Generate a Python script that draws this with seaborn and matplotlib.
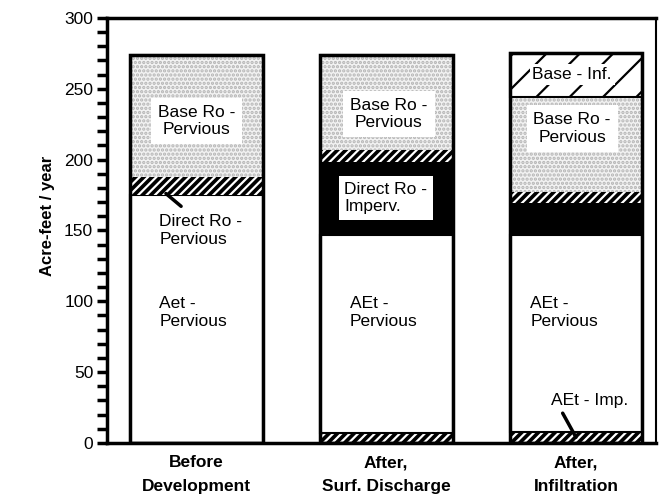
import matplotlib
matplotlib.use("Agg")
from matplotlib import pyplot as plt
from matplotlib.ticker import MultipleLocator
import numpy as np
import pandas as pd
import seaborn as sns

# categories and layer values (acre-feet / year), bottom to top
scenarios = ["Before\nDevelopment", "After,\nSurf. Discharge", "After,\nInfiltration"]
aet_imp = [0, 7, 8]
aet_perv = [175, 140, 139]
direct_imperv = [0, 51, 22]
direct_perv = [13, 9, 8]
base_ro_perv = [86, 67, 67]
base_inf = [0, 0, 31]

sns.set_style("white")
plt.rcParams["font.family"] = ["Liberation Sans", "DejaVu Sans"]
plt.rcParams["text.color"] = "black"
plt.rcParams["ytick.color"] = "black"
plt.rcParams["xtick.color"] = "black"
plt.rcParams["axes.labelcolor"] = "black"
plt.rcParams["hatch.linewidth"] = 1.6

fig, ax = plt.subplots(figsize=(6.65, 4.96), dpi=100)
fig.subplots_adjust(left=0.161, right=0.986, bottom=0.107, top=0.964)

layers = [
    (aet_imp, dict(color="black", edgecolor="white", hatch="////", linewidth=0)),
    (aet_perv, dict(color="white", edgecolor="black", linewidth=1.5)),
    (direct_imperv, dict(color="black", edgecolor="black", linewidth=0)),
    (direct_perv, dict(color="black", edgecolor="white", hatch="////", linewidth=0)),
    (base_ro_perv, dict(color="#f2f2f2", edgecolor="#b4b4b4", hatch="....", linewidth=0)),
    (base_inf, dict(color="white", edgecolor="black", hatch="/", linewidth=1.5)),
]

width = 0.7
bottom = np.zeros(len(scenarios))
for vals, style in layers:
    df = pd.DataFrame({"scenario": scenarios, "value": vals})
    sns.barplot(data=df, x="scenario", y="value", bottom=bottom, width=width,
                saturation=1, ax=ax, **style)
    bottom = bottom + np.array(vals)

# outline of each stacked bar
tot = pd.DataFrame({"scenario": scenarios, "value": bottom})
sns.barplot(data=tot, x="scenario", y="value", width=width, fill=False,
            edgecolor="black", linewidth=2.5, ax=ax)

box = dict(facecolor="white", edgecolor="none", pad=5)
fs = 12.5
ax.text(0.0, 227, "Base Ro -\nPervious", ha="center", va="center", fontsize=fs, bbox=box)
ax.text(-0.195, 150, "Direct Ro -\nPervious", ha="left", va="center", fontsize=fs)
ax.text(-0.195, 92, "Aet -\nPervious", ha="left", va="center", fontsize=fs)
ax.plot([-0.16, -0.08], [176, 167], color="black", linewidth=2.5)

ax.text(1.015, 232, "Base Ro -\nPervious", ha="center", va="center", fontsize=fs, bbox=box)
ax.text(0.78, 173, "Direct Ro -\nImperv.", ha="left", va="center", fontsize=fs,
        bbox=dict(facecolor="white", edgecolor="none", pad=4))
ax.text(0.81, 92, "AEt -\nPervious", ha="left", va="center", fontsize=fs)

ax.text(1.98, 260, "Base - Inf.", ha="center", va="center", fontsize=fs,
        bbox=dict(facecolor="white", edgecolor="none", pad=2))
ax.text(1.98, 222, "Base Ro -\nPervious", ha="center", va="center", fontsize=fs, bbox=box)
ax.text(1.76, 92, "AEt -\nPervious", ha="left", va="center", fontsize=fs)
ax.text(2.07, 30, "AEt - Imp.", ha="center", va="center", fontsize=fs)
ax.plot([1.93, 2.0], [21, 4], color="black", linewidth=2.5)

ax.set_xlim(-0.47, 2.42)
ax.set_ylim(0, 300)
ax.yaxis.set_major_locator(MultipleLocator(50))
ax.yaxis.set_minor_locator(MultipleLocator(10))
ax.tick_params(axis="y", which="both", direction="out", length=7, width=2.5,
               left=True, labelsize=12.5, pad=3)
ax.tick_params(axis="x", length=0, labelsize=12.5, pad=9)
for lab in ax.get_xticklabels():
    lab.set_fontweight("bold")
    lab.set_linespacing(1.7)
ax.set_xlabel("")
ax.set_ylabel("Acre-feet / year", fontsize=12, fontweight="bold")
ax.yaxis.set_label_coords(-0.095, 0.534)
for sp in ax.spines.values():
    sp.set_visible(True)
    sp.set_color("black")
    sp.set_linewidth(2.5)
ax.spines["right"].set_linewidth(1.5)

plt.savefig("out.png", dpi=100)
